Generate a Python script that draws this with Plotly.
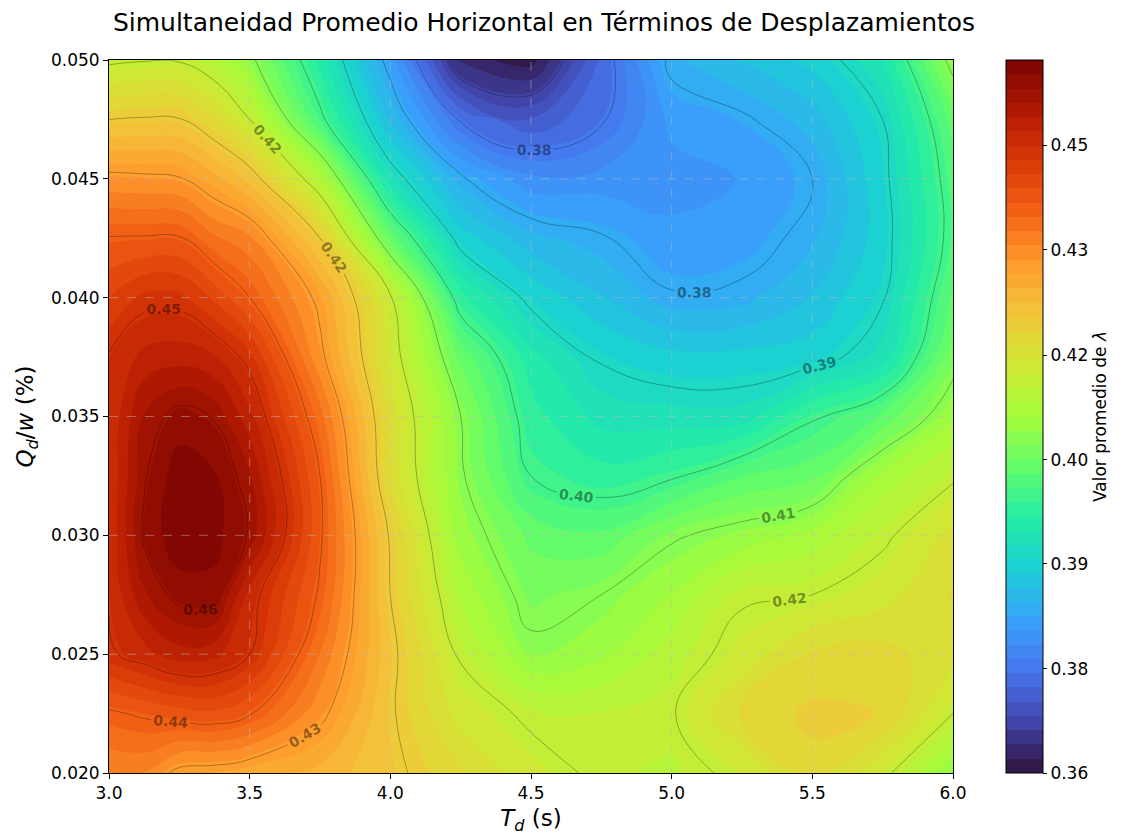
import plotly.graph_objects as go

# ---- data ----
td_values = [3.0, 3.125, 3.25, 3.375, 3.5, 3.75, 4.0, 4.25, 4.5, 4.75, 5.0, 5.25, 5.5, 5.75, 6.0]
qd_values = [0.020, 0.0225, 0.025, 0.0275, 0.030, 0.0325, 0.035, 0.0375, 0.040, 0.0425, 0.045, 0.0475, 0.050]

lam_q0200 = [0.4340, 0.4340, 0.4305, 0.4300, 0.4290, 0.4275, 0.4245, 0.4205, 0.4170, 0.4148, 0.4140, 0.4165, 0.4215, 0.4165, 0.4085]
lam_q0225 = [0.4390, 0.4400, 0.4410, 0.4415, 0.4398, 0.4325, 0.4240, 0.4175, 0.4148, 0.4145, 0.4152, 0.4205, 0.4228, 0.4222, 0.4155]
lam_q0250 = [0.4470, 0.4490, 0.4510, 0.4505, 0.4475, 0.4360, 0.4245, 0.4150, 0.4085, 0.4100, 0.4135, 0.4170, 0.4205, 0.4210, 0.4190]
lam_q0275 = [0.4478, 0.4535, 0.4565, 0.4570, 0.4490, 0.4390, 0.4235, 0.4120, 0.4060, 0.4075, 0.4105, 0.4150, 0.4155, 0.4175, 0.4205]
lam_q0300 = [0.4480, 0.4560, 0.4593, 0.4585, 0.4552, 0.4400, 0.4230, 0.4095, 0.4040, 0.4030, 0.4070, 0.4090, 0.4110, 0.4148, 0.4190]
lam_q0325 = [0.4480, 0.4552, 0.4590, 0.4580, 0.4540, 0.4395, 0.4200, 0.4080, 0.3995, 0.3975, 0.3990, 0.4025, 0.4040, 0.4110, 0.4150]
lam_q0350 = [0.4480, 0.4540, 0.4565, 0.4553, 0.4505, 0.4370, 0.4195, 0.4075, 0.3975, 0.3940, 0.3935, 0.3935, 0.3990, 0.4030, 0.4100]
lam_q0375 = [0.4478, 0.4505, 0.4510, 0.4500, 0.4465, 0.4325, 0.4175, 0.4040, 0.3955, 0.3910, 0.3895, 0.3895, 0.3900, 0.3935, 0.4060]
lam_q0400 = [0.4440, 0.4465, 0.4465, 0.4435, 0.4395, 0.4305, 0.4160, 0.3975, 0.3905, 0.3870, 0.3838, 0.3842, 0.3870, 0.3912, 0.4030]
lam_q0425 = [0.4397, 0.4398, 0.4398, 0.4365, 0.4345, 0.4235, 0.4040, 0.3900, 0.3855, 0.3838, 0.3815, 0.3820, 0.3845, 0.3900, 0.4010]
lam_q0450 = [0.4325, 0.4322, 0.4318, 0.4290, 0.4255, 0.4125, 0.3935, 0.3840, 0.3795, 0.3798, 0.3800, 0.3810, 0.3835, 0.3905, 0.4015]
lam_q0475 = [0.4235, 0.4238, 0.4237, 0.4205, 0.4155, 0.4005, 0.3865, 0.3750, 0.3712, 0.3750, 0.3815, 0.3830, 0.3858, 0.3915, 0.4035]
lam_q0500 = [0.4148, 0.4153, 0.4152, 0.4128, 0.4085, 0.3960, 0.3820, 0.3640, 0.3622, 0.3735, 0.3845, 0.3870, 0.3895, 0.3945, 0.4090]

lam_grid = [lam_q0200, lam_q0225, lam_q0250, lam_q0275, lam_q0300, lam_q0325, lam_q0350,
            lam_q0375, lam_q0400, lam_q0425, lam_q0450, lam_q0475, lam_q0500]

z_min, z_max = 0.3612, 0.4597
line_start, line_end, line_step = 0.3675, 0.4555, 0.008

cbar_tickvals = [0.3612, 0.3756, 0.3901, 0.4045, 0.4189, 0.4335, 0.4479]
cbar_ticktext = ["0.36", "0.38", "0.39", "0.40", "0.42", "0.43", "0.45"]

x_ticks = [3.0, 3.5, 4.0, 4.5, 5.0, 5.5, 6.0]
y_ticks = [0.020, 0.025, 0.030, 0.035, 0.040, 0.045, 0.050]

FONT = "DejaVu Sans"

fig = go.Figure()

fig.add_trace(go.Contour(
    x=td_values, y=qd_values, z=lam_grid,
    colorscale="Turbo", zmin=z_min, zmax=z_max,
    contours=dict(coloring="fill", start=z_min, end=z_max,
                  size=(z_max - z_min) / 50, showlines=False),
    line=dict(width=0, smoothing=1.3),
    colorbar=dict(
        thickness=37, thicknessmode="pixels", len=1, lenmode="fraction",
        x=1.0628, xanchor="left", xpad=0, y=0.5, yanchor="middle", ypad=0,
        outlinewidth=1, outlinecolor="black",
        tickmode="array", tickvals=cbar_tickvals, ticktext=cbar_ticktext,
        ticks="outside", ticklen=4, tickcolor="black",
        tickfont=dict(size=17, family=FONT, color="black"),
        title=dict(text="Valor promedio de <i>λ</i>", side="right",
                   font=dict(size=17, family=FONT, color="black")),
    ),
    hoverinfo="skip",
))

fig.add_trace(go.Contour(
    x=td_values, y=qd_values, z=lam_grid,
    showscale=False,
    contours=dict(coloring="none", start=line_start, end=line_end, size=line_step,
                  showlabels=True, labelformat=".2f",
                  labelfont=dict(size=14, family=FONT, color="rgba(0,0,0,0.42)", weight="bold")),
    line=dict(color="rgba(0,0,0,0.42)", width=0.7, smoothing=1.3),
    hoverinfo="skip",
))

shapes = []
for xt in x_ticks[1:-1]:
    shapes.append(dict(type="line", xref="x", yref="paper", x0=xt, x1=xt, y0=0, y1=1,
                       line=dict(color="rgba(190,190,190,0.6)", width=0.8, dash="dash"), layer="above"))
for yt in y_ticks[1:-1]:
    shapes.append(dict(type="line", xref="paper", yref="y", x0=0, x1=1, y0=yt, y1=yt,
                       line=dict(color="rgba(190,190,190,0.6)", width=0.8, dash="dash"), layer="above"))

fig.update_layout(
    width=1136, height=839,
    margin=dict(l=109, r=183, t=60, b=62),
    paper_bgcolor="white", plot_bgcolor="white",
    font=dict(family=FONT, color="black"),
    title=dict(text="Simultaneidad Promedio Horizontal en Términos de Desplazamientos",
               x=544 / 1136, xref="container", xanchor="center",
               y=1 - 22 / 839, yref="container", yanchor="middle",
               font=dict(size=25, family=FONT, color="black")),
    shapes=shapes,
    xaxis=dict(range=[3.0, 6.0], tickmode="array", tickvals=x_ticks,
               ticktext=[f"{v:.1f}" for v in x_ticks],
               ticks="outside", ticklen=5, tickcolor="black", tickwidth=1,
               showline=True, linecolor="black", linewidth=1, mirror=True,
               showgrid=False, zeroline=False,
               tickfont=dict(size=17, family=FONT, color="black"),
               title=dict(text="<i>T</i><sub><i>d</i></sub> (s)", standoff=7,
                          font=dict(size=23, family=FONT, color="black"))),
    yaxis=dict(range=[0.020, 0.050], tickmode="array", tickvals=y_ticks,
               ticktext=[f"{v:.3f}" for v in y_ticks],
               ticks="outside", ticklen=5, tickcolor="black", tickwidth=1,
               showline=True, linecolor="black", linewidth=1, mirror=True,
               showgrid=False, zeroline=False,
               tickfont=dict(size=17, family=FONT, color="black"),
               title=dict(text="<i>Q</i><sub><i>d</i></sub>/<i>w</i> (%)", standoff=10,
                          font=dict(size=23, family=FONT, color="black"))),
)

fig.write_html("out.html")
